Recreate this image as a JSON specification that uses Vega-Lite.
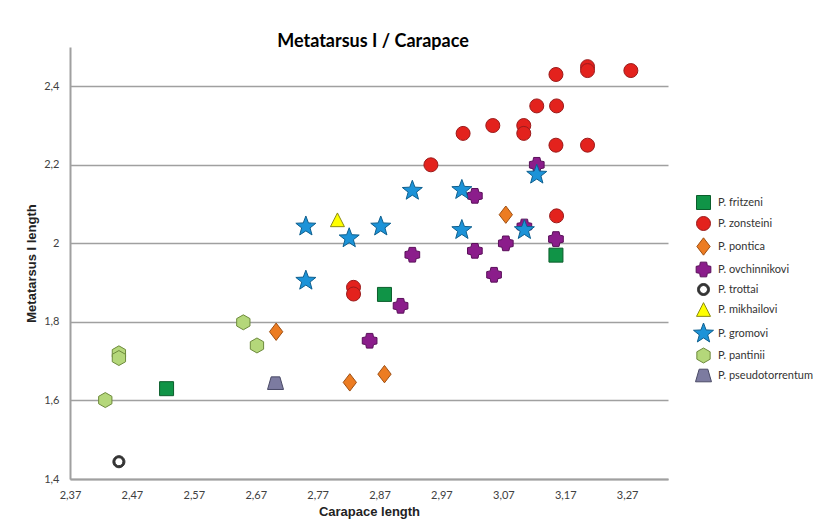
{
  "$schema": "https://vega.github.io/schema/vega-lite/v6.json",
  "width": 598,
  "height": 432,
  "autosize": {"type": "none"},
  "padding": {"left": 70, "top": 47, "right": 150, "bottom": 42},
  "background": "white",
  "title": {"text": "Metatarsus I / Carapace", "font": "Lato", "fontSize": 18, "fontWeight": "bold", "color": "#000000", "anchor": "middle", "frame": "group", "offset": -18, "baseline": "alphabetic", "dx": 4},
  "config": {
    "view": {"stroke": null},
    "axis": {"domainColor": "#a0a0a0", "domainWidth": 2, "ticks": false, "tickSize": 0, "labelFont": "Lato", "labelFontSize": 11, "labelColor": "#404040", "titleFont": "Liberation Sans", "titleFontSize": 13, "titleFontWeight": "bold", "titleColor": "#222222", "gridColor": "#a0a0a0", "gridWidth": 1.6}
  },
  "data": {"values": [
    {"species": "P. fritzeni", "carapace": 3.155, "metatarsus": 1.97},
    {"species": "P. fritzeni", "carapace": 2.878, "metatarsus": 1.87},
    {"species": "P. fritzeni", "carapace": 2.526, "metatarsus": 1.63},
    {"species": "P. zonsteini", "carapace": 3.155, "metatarsus": 2.43},
    {"species": "P. zonsteini", "carapace": 3.206, "metatarsus": 2.45},
    {"species": "P. zonsteini", "carapace": 3.206, "metatarsus": 2.44},
    {"species": "P. zonsteini", "carapace": 3.276, "metatarsus": 2.44},
    {"species": "P. zonsteini", "carapace": 3.124, "metatarsus": 2.35},
    {"species": "P. zonsteini", "carapace": 3.156, "metatarsus": 2.35},
    {"species": "P. zonsteini", "carapace": 3.103, "metatarsus": 2.30},
    {"species": "P. zonsteini", "carapace": 3.103, "metatarsus": 2.28},
    {"species": "P. zonsteini", "carapace": 3.053, "metatarsus": 2.30},
    {"species": "P. zonsteini", "carapace": 3.005, "metatarsus": 2.28},
    {"species": "P. zonsteini", "carapace": 3.155, "metatarsus": 2.25},
    {"species": "P. zonsteini", "carapace": 3.206, "metatarsus": 2.25},
    {"species": "P. zonsteini", "carapace": 2.953, "metatarsus": 2.20},
    {"species": "P. zonsteini", "carapace": 3.156, "metatarsus": 2.07},
    {"species": "P. zonsteini", "carapace": 2.828, "metatarsus": 1.888},
    {"species": "P. zonsteini", "carapace": 2.828, "metatarsus": 1.871},
    {"species": "P. pontica", "carapace": 3.074, "metatarsus": 2.073},
    {"species": "P. pontica", "carapace": 2.703, "metatarsus": 1.775},
    {"species": "P. pontica", "carapace": 2.878, "metatarsus": 1.667},
    {"species": "P. pontica", "carapace": 2.822, "metatarsus": 1.646},
    {"species": "P. ovchinnikovi", "carapace": 3.124, "metatarsus": 2.20},
    {"species": "P. ovchinnikovi", "carapace": 3.024, "metatarsus": 2.121},
    {"species": "P. ovchinnikovi", "carapace": 3.104, "metatarsus": 2.043},
    {"species": "P. ovchinnikovi", "carapace": 3.155, "metatarsus": 2.011},
    {"species": "P. ovchinnikovi", "carapace": 3.074, "metatarsus": 2.00},
    {"species": "P. ovchinnikovi", "carapace": 3.024, "metatarsus": 1.981},
    {"species": "P. ovchinnikovi", "carapace": 2.923, "metatarsus": 1.971},
    {"species": "P. ovchinnikovi", "carapace": 3.055, "metatarsus": 1.92},
    {"species": "P. ovchinnikovi", "carapace": 2.904, "metatarsus": 1.841},
    {"species": "P. ovchinnikovi", "carapace": 2.854, "metatarsus": 1.752},
    {"species": "P. trottai", "carapace": 2.449, "metatarsus": 1.444},
    {"species": "P. mikhailovi", "carapace": 2.802, "metatarsus": 2.06},
    {"species": "P. gromovi", "carapace": 2.923, "metatarsus": 2.134},
    {"species": "P. gromovi", "carapace": 3.003, "metatarsus": 2.136},
    {"species": "P. gromovi", "carapace": 3.124, "metatarsus": 2.175},
    {"species": "P. gromovi", "carapace": 2.751, "metatarsus": 2.043},
    {"species": "P. gromovi", "carapace": 2.821, "metatarsus": 2.013},
    {"species": "P. gromovi", "carapace": 2.872, "metatarsus": 2.043},
    {"species": "P. gromovi", "carapace": 3.003, "metatarsus": 2.034},
    {"species": "P. gromovi", "carapace": 3.104, "metatarsus": 2.034},
    {"species": "P. gromovi", "carapace": 2.751, "metatarsus": 1.905},
    {"species": "P. pantinii", "carapace": 2.650, "metatarsus": 1.799},
    {"species": "P. pantinii", "carapace": 2.672, "metatarsus": 1.74},
    {"species": "P. pantinii", "carapace": 2.449, "metatarsus": 1.72},
    {"species": "P. pantinii", "carapace": 2.449, "metatarsus": 1.708},
    {"species": "P. pantinii", "carapace": 2.427, "metatarsus": 1.601},
    {"species": "P. pseudotorrentum", "carapace": 2.702, "metatarsus": 1.644}
  ]},
  "mark": {"type": "point", "filled": true, "opacity": 1, "size": 196, "strokeWidth": 1},
  "encoding": {
    "x": {"field": "carapace", "type": "quantitative",
      "scale": {"domain": [2.37, 3.336], "nice": false, "zero": false},
      "axis": {"values": [2.37, 2.47, 2.57, 2.67, 2.77, 2.87, 2.97, 3.07, 3.17, 3.27], "labelExpr": "replace(format(datum.value, '.2f'), '.', ',')", "grid": false, "title": "Carapace length", "labelPadding": 10, "titlePadding": 5, "labelFlush": false}},
    "y": {"field": "metatarsus", "type": "quantitative",
      "scale": {"domain": [1.4, 2.5], "nice": false, "zero": false},
      "axis": {"values": [1.4, 1.6, 1.8, 2.0, 2.2, 2.4], "labelExpr": "replace(format(datum.value, '~g'), '.', ',')", "grid": true, "title": "Metatarsus I length", "labelPadding": 11, "titlePadding": 5, "labelFlush": false}},
    "fill": {"field": "species", "type": "nominal",
      "scale": {"domain": ["P. fritzeni", "P. zonsteini", "P. pontica", "P. ovchinnikovi", "P. trottai", "P. mikhailovi", "P. gromovi", "P. pantinii", "P. pseudotorrentum"],
        "range": ["#109447", "#e3221d", "#ec7c22", "#8b1d8b", "#333333", "#ffff00", "#1c93d8", "#b4d77a", "#7c7ba0"]},
      "legend": {"title": null, "orient": "none", "legendX": 626, "legendY": 148, "symbolSize": 196, "symbolStrokeWidth": 1, "labelFont": "Lato", "labelFontSize": 11, "labelColor": "#333333", "rowPadding": 2, "labelOffset": 7, "padding": 0}},
    "stroke": {"field": "species", "type": "nominal",
      "scale": {"domain": ["P. fritzeni", "P. zonsteini", "P. pontica", "P. ovchinnikovi", "P. trottai", "P. mikhailovi", "P. gromovi", "P. pantinii", "P. pseudotorrentum"],
        "range": ["#0b5e2c", "#9b1b1b", "#9e4f12", "#5a105a", "#333333", "#8a8a10", "#0e5f8e", "#6d8a3c", "#4a4a66"]}},
    "shape": {"field": "species", "type": "nominal",
      "scale": {"domain": ["P. fritzeni", "P. zonsteini", "P. pontica", "P. ovchinnikovi", "P. trottai", "P. mikhailovi", "P. gromovi", "P. pantinii", "P. pseudotorrentum"],
        "range": [
          "square",
          "circle",
          "M0,-1.24L0.95,0L0,1.24L-0.95,0Z",
          "M-0.45,-1.05L0.45,-1.05L0.55,-0.55L1.05,-0.45L1.05,0.45L0.55,0.55L0.45,1.05L-0.45,1.05L-0.55,0.55L-1.05,0.45L-1.05,-0.45L-0.55,-0.55Z",
          "M0.86,0A0.86,0.86 0 1,1 -0.86,0A0.86,0.86 0 1,1 0.86,0ZM0.57,0A0.57,0.57 0 1,0 -0.57,0A0.57,0.57 0 1,0 0.57,0Z",
          "M0,-0.98L1,0.98L-1,0.98Z",
          "M0,-1.5L0.37,-0.51L1.43,-0.46L0.6,0.2L0.88,1.21L0,0.63L-0.88,1.21L-0.6,0.2L-1.43,-0.46L-0.37,-0.51Z",
          "M0,-1.07L0.95,-0.53L0.95,0.53L0,1.07L-0.95,0.53L-0.95,-0.53Z",
          "M-0.62,-0.9L0.62,-0.9L1.14,0.9L-1.14,0.9Z"
        ]}}
  }
}
